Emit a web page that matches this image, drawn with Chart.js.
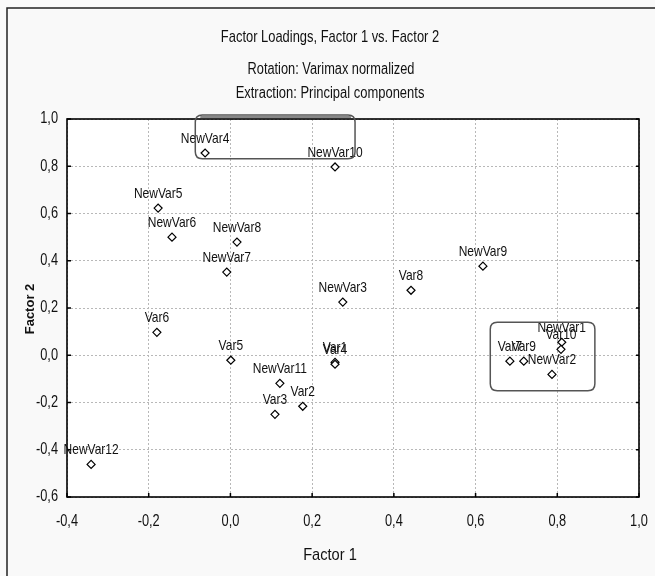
<!DOCTYPE html>
<html><head><meta charset="utf-8">
<script src="https://cdn.jsdelivr.net/npm/chart.js@4"></script>
<style>html,body{margin:0;padding:0;background:#f9f9f9;}canvas{display:block;}</style>
</head><body>
<canvas id="c" width="655" height="576"></canvas>
<script>
// ---- data ----
const varNames = ["NewVar4","NewVar10","NewVar5","NewVar6","NewVar8","NewVar7","NewVar9","Var8","NewVar3","Var6","Var5","Var1","Var4","NewVar11","Var2","Var3","NewVar12","Var7","Var9","NewVar2","NewVar1","Var10"];
const factor1 = [-0.062,0.256,-0.177,-0.143,0.016,-0.009,0.618,0.442,0.275,-0.180,0.001,0.256,0.256,0.121,0.177,0.109,-0.341,0.684,0.718,0.787,0.811,0.809];
const factor2 = [0.856,0.797,0.623,0.500,0.479,0.352,0.377,0.275,0.225,0.097,-0.021,-0.030,-0.038,-0.119,-0.216,-0.250,-0.462,-0.025,-0.025,-0.081,0.055,0.025];
const xTicks = [-0.4,-0.2,0.0,0.2,0.4,0.6,0.8,1.0];
const yTicks = [-0.6,-0.4,-0.2,0.0,0.2,0.4,0.6,0.8,1.0];
const titleLines = ["Factor Loadings, Factor 1 vs. Factor 2","Rotation: Varimax normalized","Extraction: Principal components"];
const xTitle = "Factor 1";
const yTitle = "Factor 2";
// highlighted groups (data units): [x1, y1, x2, y2]
const groupBoxes = [[-0.086,1.017,0.305,0.832],[0.636,0.140,0.892,-0.150]];

const FONT = "'Liberation Sans',Arial,sans-serif";
const fmt = v => v.toFixed(1).replace('.', ',');

function ctext(ctx,text,x,y,size,sx,align,base){
  ctx.save();
  ctx.font=size+"px "+FONT;
  ctx.textAlign=align||'center';ctx.textBaseline=base||'middle';
  ctx.translate(x,y);ctx.scale(sx,1);
  ctx.fillText(text,0,0);
  ctx.restore();
}
function rrect(ctx,x,y,w,h,r){
  ctx.beginPath();
  ctx.moveTo(x+r,y);ctx.lineTo(x+w-r,y);ctx.quadraticCurveTo(x+w,y,x+w,y+r);
  ctx.lineTo(x+w,y+h-r);ctx.quadraticCurveTo(x+w,y+h,x+w-r,y+h);
  ctx.lineTo(x+r,y+h);ctx.quadraticCurveTo(x,y+h,x,y+h-r);
  ctx.lineTo(x,y+r);ctx.quadraticCurveTo(x,y,x+r,y);ctx.closePath();
}

const decor = {
  id:'decor',
  beforeDraw(chart){
    const {ctx, chartArea:a} = chart;
    ctx.save();
    ctx.fillStyle='#f9f9f9';ctx.fillRect(0,0,chart.width,chart.height);
    ctx.fillStyle='#ffffff';ctx.fillRect(a.left,a.top,a.right-a.left,a.bottom-a.top);
    ctx.strokeStyle='#222';ctx.lineWidth=1.5;
    ctx.beginPath();ctx.moveTo(7,chart.height);ctx.lineTo(7,8);ctx.lineTo(chart.width,8);ctx.stroke();
    ctx.restore();
  },
  afterDatasetsDraw(chart){
    const {ctx, chartArea:a, scales:{x,y}} = chart;
    ctx.save();
    ctx.strokeStyle='#000';ctx.lineWidth=1.6;
    ctx.strokeRect(a.left,a.top,a.right-a.left,a.bottom-a.top);
    ctx.lineWidth=1.5;
    ctx.beginPath();
    yTicks.forEach(v=>{const py=y.getPixelForValue(v);ctx.moveTo(a.left,py);ctx.lineTo(a.left+4,py);ctx.moveTo(a.right,py);ctx.lineTo(a.right-3,py);});
    xTicks.forEach(v=>{const px=x.getPixelForValue(v);ctx.moveTo(px,a.bottom);ctx.lineTo(px,a.bottom-4);});
    ctx.stroke();
    ctx.fillStyle='#111';
    // tick labels
    yTicks.forEach(v=>ctext(ctx,fmt(v),a.left-9,y.getPixelForValue(v),16,0.8,'right','middle'));
    xTicks.forEach(v=>ctext(ctx,fmt(v),x.getPixelForValue(v),522,16,0.8,'center','middle'));
    // point labels
    varNames.forEach((n,i)=>{
      const px=x.getPixelForValue(factor1[i]), py=y.getPixelForValue(factor2[i]);
      ctext(ctx,n,px,py-10,15,0.8,'center','alphabetic');
    });
    // group boxes
    ctx.strokeStyle='#555';ctx.lineWidth=1.5;
    groupBoxes.forEach(b=>{
      const x1=x.getPixelForValue(b[0]),y1=y.getPixelForValue(b[1]),x2=x.getPixelForValue(b[2]),y2=y.getPixelForValue(b[3]);
      rrect(ctx,x1,y1,x2-x1,y2-y1,7);ctx.stroke();
    });
    // top edge shadow of first group box
    {
      const b=groupBoxes[0];
      const x1=x.getPixelForValue(b[0]),y1=y.getPixelForValue(b[1]),x2=x.getPixelForValue(b[2]);
      ctx.strokeStyle='#888';ctx.lineWidth=2;
      ctx.beginPath();ctx.moveTo(x1+5,y1+2);ctx.lineTo(x2-4,y1+2);ctx.stroke();
    }
    // titles
    ctx.fillStyle='#111';
    ctext(ctx,titleLines[0],330,37,17,0.76);
    ctext(ctx,titleLines[1],331,70,16,0.8);
    ctext(ctx,titleLines[2],330,94,16,0.81);
    ctext(ctx,xTitle,330,555,17,0.86);
    ctx.save();
    ctx.translate(30,309);ctx.rotate(-Math.PI/2);
    ctx.font="bold 13px "+FONT;ctx.textAlign='center';ctx.textBaseline='middle';
    ctx.fillText(yTitle,0,0);
    ctx.restore();
    ctx.restore();
  }
};

new Chart(document.getElementById('c'),{
  type:'scatter',
  data:{datasets:[{
    data:varNames.map((n,i)=>({x:factor1[i],y:factor2[i]})),
    pointStyle:'rectRot',radius:4,borderColor:'#000',backgroundColor:'#fff',borderWidth:1.2
  }]},
  options:{
    responsive:false,animation:false,
    layout:{padding:{left:0,right:16,top:119,bottom:39}},
    plugins:{legend:{display:false},tooltip:{enabled:false},title:{display:false}},
    scales:{
      x:{type:'linear',min:-0.4,max:1.0,
        afterBuildTicks:s=>{s.ticks=xTicks.map(v=>({value:v}));},
        afterFit:s=>{s.height=40;s.paddingLeft=0;s.paddingRight=0;},
        ticks:{display:false},
        grid:{color:'#b8b8b8',lineWidth:1,drawTicks:false},
        border:{display:false,dash:[2,2]}
      },
      y:{type:'linear',min:-0.6,max:1.0,
        afterBuildTicks:s=>{s.ticks=yTicks.map(v=>({value:v}));},
        afterFit:s=>{s.width=67;s.paddingTop=0;s.paddingBottom=0;},
        ticks:{display:false},
        grid:{color:'#b8b8b8',lineWidth:1,drawTicks:false},
        border:{display:false,dash:[2,2]}
      }
    }
  },
  plugins:[decor]
});
</script>
</body></html>
